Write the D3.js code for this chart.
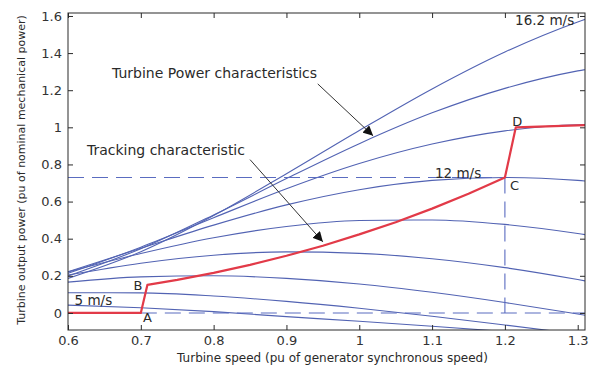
<!DOCTYPE html>
<html>
<head>
<meta charset="utf-8">
<script src="https://cdn.jsdelivr.net/npm/d3@7"></script>
<style>
  body { margin: 0; background: #fff; }
  svg { display: block; font-family: "DejaVu Sans", Verdana, sans-serif; }
</style>
</head>
<body>
<svg width="589" height="365"></svg>
<script>
// turbine speed (pu) where each power curve was read
const speedPu = [0.6, 0.7, 0.8, 0.9, 1.0, 1.1, 1.2, 1.3, 1.35];

// turbine output power (pu) per wind speed
const p16_2 = [0.186, 0.330, 0.525, 0.750, 0.983, 1.207, 1.406, 1.568, 1.634];
const p14_8 = [0.199, 0.346, 0.528, 0.724, 0.912, 1.078, 1.210, 1.304, 1.336];
const p13_4 = [0.213, 0.354, 0.513, 0.669, 0.805, 0.910, 0.981, 1.014, 1.016];
const p12 = [0.222, 0.348, 0.473, 0.582, 0.664, 0.714, 0.730, 0.714, 0.696];
const p10_6 = [0.221, 0.320, 0.405, 0.466, 0.498, 0.501, 0.477, 0.428, 0.396];
const p9_2 = [0.204, 0.268, 0.311, 0.329, 0.321, 0.292, 0.244, 0.180, 0.144];
const p7_8 = [0.166, 0.194, 0.200, 0.186, 0.156, 0.111, 0.056, -0.006, -0.039];
const p6_4 = [0.109, 0.108, 0.091, 0.062, 0.025, -0.018, -0.065, -0.114, -0.14];
const p5 = [0.042, 0.028, 0.007, -0.020, -0.045, -0.072, -0.100, -0.13, -0.145];
const powerCurves = [p16_2, p14_8, p13_4, p12, p10_6, p9_2, p7_8, p6_4, p5];

// tracking characteristic A-B-C-D
const trackSpeed = [0.6, 0.7, 0.709, 0.75, 0.8, 0.85, 0.9, 0.95, 1.0, 1.05, 1.1, 1.15, 1.2, 1.215, 1.31];
const trackPower = [0, 0, 0.151, 0.178, 0.216, 0.259, 0.308, 0.362, 0.423, 0.489, 0.562, 0.642, 0.73, 1.0, 1.012];

const xTicks = [0.6, 0.7, 0.8, 0.9, 1.0, 1.1, 1.2, 1.3];
const xTickLabels = ["0.6", "0.7", "0.8", "0.9", "1", "1.1", "1.2", "1.3"];
const yTicks = [0, 0.2, 0.4, 0.6, 0.8, 1.0, 1.2, 1.4, 1.6];
const yTickLabels = ["0", "0.2", "0.4", "0.6", "0.8", "1", "1.2", "1.4", "1.6"];

const svg = d3.select("svg");
const plotL = 68, plotR = 585, plotT = 13, plotB = 330;
const x = d3.scaleLinear().domain([0.6, 1.31]).range([plotL, plotR]);
const y = d3.scaleLinear().domain([-0.092, 1.616]).range([plotB, plotT]);

const blue = "#5263b3";
const ink = "#2a2a2a";

svg.append("rect").attr("width", 589).attr("height", 365).attr("fill", "#fff");

const defs = svg.append("defs");
defs.append("clipPath").attr("id", "plot")
  .append("rect")
  .attr("x", plotL).attr("y", plotT)
  .attr("width", plotR - plotL).attr("height", plotB - plotT);

defs.append("marker")
  .attr("id", "head")
  .attr("viewBox", "0 0 10 10")
  .attr("refX", 10).attr("refY", 5)
  .attr("markerWidth", 10).attr("markerHeight", 10)
  .attr("markerUnits", "userSpaceOnUse")
  .attr("orient", "auto")
  .append("path")
  .attr("d", "M0,0L10,5L0,10z")
  .attr("fill", "#111");

const g = svg.append("g").attr("clip-path", "url(#plot)");

const line = d3.line()
  .x((d, i) => x(speedPu[i]))
  .y(d => y(d))
  .curve(d3.curveMonotoneX);

g.selectAll(".curve")
  .data(powerCurves)
  .enter()
  .append("path")
  .attr("class", "curve")
  .attr("d", line)
  .attr("fill", "none")
  .attr("stroke", blue)
  .attr("stroke-width", 1.1);

// dashed guide lines
const guides = [
  [[0.6, 0.73], [1.2, 0.73]],
  [[1.2, 0.73], [1.2, 0]],
  [[0.7, 0], [1.31, 0]]
];
g.selectAll(".guide")
  .data(guides)
  .enter()
  .append("path")
  .attr("class", "guide")
  .attr("d", d => d3.line().x(p => x(p[0])).y(p => y(p[1]))(d))
  .attr("fill", "none")
  .attr("stroke", "#5a6cc0")
  .attr("stroke-width", 1.1)
  .attr("stroke-dasharray", "16,8");

g.append("path")
  .datum(trackSpeed.map((s, i) => [s, trackPower[i]]))
  .attr("d", d3.line().x(d => x(d[0])).y(d => y(d[1])))
  .attr("fill", "none")
  .attr("stroke", "#e23a48")
  .attr("stroke-width", 2.2)
  .attr("stroke-linejoin", "round");

// axes, ticks pointing inward on all four sides
const axB = svg.append("g").attr("transform", `translate(0,${plotB})`)
  .call(d3.axisBottom(x).tickValues(xTicks).tickSize(-5).tickPadding(6)
    .tickFormat((d, i) => xTickLabels[i]));
const axT = svg.append("g").attr("transform", `translate(0,${plotT})`)
  .call(d3.axisTop(x).tickValues(xTicks).tickSize(-5).tickFormat(""));
const axL = svg.append("g").attr("transform", `translate(${plotL},0)`)
  .call(d3.axisLeft(y).tickValues(yTicks).tickSize(-5).tickPadding(6)
    .tickFormat((d, i) => yTickLabels[i]));
const axR = svg.append("g").attr("transform", `translate(${plotR},0)`)
  .call(d3.axisRight(y).tickValues(yTicks).tickSize(-5).tickFormat(""));

[axB, axT, axL, axR].forEach(a => {
  a.select(".domain").remove();
  a.selectAll("line").attr("stroke", ink);
  a.selectAll("text").attr("fill", "#333").style("font-size", "13px")
    .style("font-family", '"DejaVu Sans", Verdana, sans-serif');
});

svg.append("rect")
  .attr("x", plotL).attr("y", plotT)
  .attr("width", plotR - plotL).attr("height", plotB - plotT)
  .attr("fill", "none").attr("stroke", ink).attr("stroke-width", 1);

svg.append("text")
  .attr("x", (plotL + plotR) / 2 + 6).attr("y", 362)
  .attr("text-anchor", "middle")
  .attr("fill", ink).style("font-size", "12px")
  .text("Turbine speed (pu of generator synchronous speed)");

svg.append("text")
  .attr("transform", "translate(25,170) rotate(-90)")
  .attr("text-anchor", "middle")
  .attr("fill", ink).style("font-size", "11px")
  .text("Turbine output power (pu of nominal mechanical power)");

// annotations
const notes = [
  { t: "Turbine Power characteristics", sx: 0.6604, sy: 1.266, size: 14 },
  { t: "Tracking characteristic", sx: 0.626, sy: 0.851, size: 14 },
  { t: "16.2 m/s", sx: 1.214, sy: 1.552, size: 13.5 },
  { t: "12 m/s", sx: 1.104, sy: 0.728, size: 13.5 },
  { t: "5 m/s", sx: 0.609, sy: 0.045, size: 13.5 },
  { t: "A", sx: 0.703, sy: -0.048, size: 13 },
  { t: "B", sx: 0.69, sy: 0.124, size: 13 },
  { t: "C", sx: 1.207, sy: 0.663, size: 13 },
  { t: "D", sx: 1.21, sy: 1.005, size: 13 }
];
svg.selectAll(".note")
  .data(notes)
  .enter()
  .append("text")
  .attr("class", "note")
  .attr("x", d => x(d.sx))
  .attr("y", d => y(d.sy))
  .attr("fill", ink)
  .style("font-size", d => d.size + "px")
  .text(d => d.t);

const arrows = [
  [[0.943, 1.234], [1.019, 0.954]],
  [[0.85, 0.826], [0.95, 0.383]]
];
svg.selectAll(".arrow")
  .data(arrows)
  .enter()
  .append("line")
  .attr("class", "arrow")
  .attr("x1", d => x(d[0][0])).attr("y1", d => y(d[0][1]))
  .attr("x2", d => x(d[1][0])).attr("y2", d => y(d[1][1]))
  .attr("stroke", "#333")
  .attr("stroke-width", 1)
  .attr("marker-end", "url(#head)");
</script>
</body>
</html>
